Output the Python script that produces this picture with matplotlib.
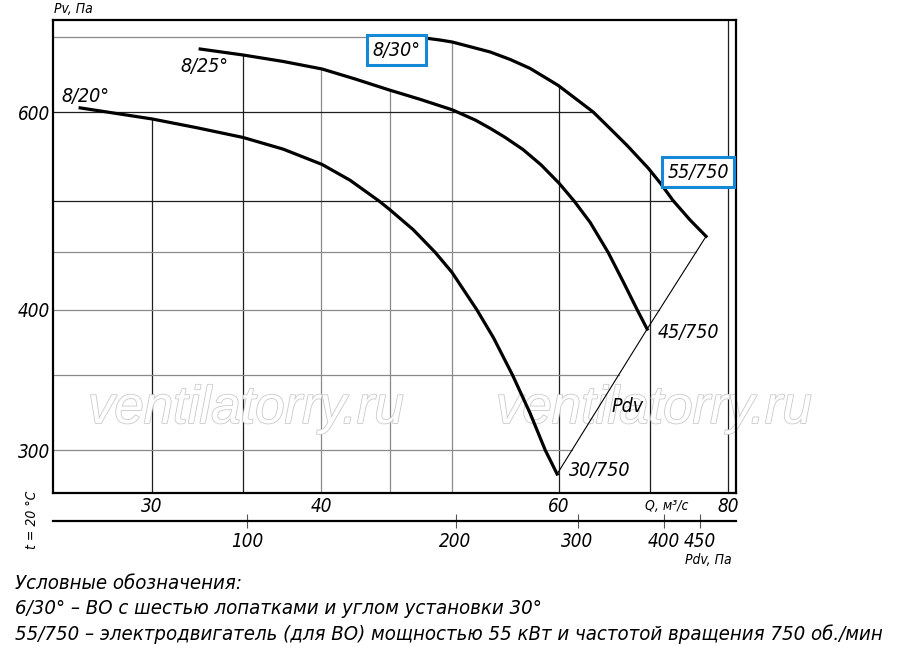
import os
import matplotlib
matplotlib.use("Agg")
import matplotlib.pyplot as plt
import matplotlib.patheffects as pe
from matplotlib import font_manager
from matplotlib.font_manager import FontProperties
from matplotlib.ticker import NullLocator, FixedLocator
import numpy as np

# ---- values ----
Q_20 = [26.54, 28.21, 30.0, 32.39, 35.02, 37.50, 40.07, 42.03, 44.16, 44.95, 46.80, 48.59,
        50.0, 52.16, 53.66, 55.42, 57.12, 58.60, 59.80]
P_20 = [605.3, 598.5, 591.7, 581.1, 569.7, 556.2, 539.0, 521.8, 500.0, 491.5, 471.5, 450.0,
        431.9, 400.0, 377.7, 350.0, 323.4, 300.0, 285.6]
Q_25 = [32.56, 35.02, 37.50, 40.07, 42.39, 44.92, 47.36, 50.02, 52.02, 53.35, 54.74, 56.44,
        58.20, 60.01, 61.56, 63.26, 65.23, 66.92, 68.54, 69.71]
P_25 = [683.0, 674.7, 665.8, 655.6, 642.3, 628.0, 616.0, 602.9, 590.4, 580.5, 569.7, 555.6,
        538.4, 518.5, 500.0, 478.6, 450.0, 423.8, 400.0, 384.5]
Q_30 = [47.36, 49.00, 50.02, 53.35, 55.21, 57.12, 59.91, 63.59, 65.46, 67.38, 69.83, 71.27,
        72.86, 75.00, 77.07]
P_30 = [699.5, 695.7, 692.9, 678.9, 668.5, 656.3, 633.9, 600.2, 580.0, 560.3, 535.0, 519.0,
        500.5, 480.9, 465.1]

BLADES = ["8/20°", "8/25°", "8/30°"]
MOTORS = ["30/750", "45/750", "55/750"]

Q_TICKS = [30, 40, 60, 80]
Q_GRID = [30, 35, 40, 45, 50, 60, 70, 80]
P_TICKS = [300, 400, 600]
P_GRID = [300, 350, 400, 450, 500, 600, 700]
PDV_TICKS = [100, 200, 300, 400, 450]

LEGEND = ["Условные обозначения:",
          "6/30° – ВО с шестью лопатками и углом установки 30°",
          "55/750 – электродвигатель (для ВО) мощностью 55 кВт и частотой вращения 750 об./мин"]

# ---- fonts: a condensed italic if one is installed ----
def pick_font(patterns):
    files = [f.fname for f in font_manager.fontManager.ttflist]
    for pat in patterns:
        for fn in files:
            if os.path.basename(fn).lower().startswith(pat.lower()):
                return fn
    return None

NARROW_FILE = pick_font(["LiberationSansNarrow-Italic", "NotoSans-CondensedItalic",
                         "DejaVuSansCondensed-Oblique"])
WMARK_FILE = pick_font(["LiberationSans-Italic", "DejaVuSans-Oblique"])


def fp(size, fname=NARROW_FILE):
    if fname:
        return FontProperties(fname=fname, size=size)
    return FontProperties(family="DejaVu Sans", style="italic", stretch="condensed", size=size)


BLUE = "#1589d6"
DARK, GRAY = "#1e1e1e", "#8a8a8a"
QGRID_COL = [DARK, DARK, GRAY, GRAY, GRAY, DARK, DARK, DARK]
PGRID_COL = [GRAY, GRAY, GRAY, GRAY, DARK, DARK, GRAY]

W, H = 900, 658
fx = lambda px: px / W
fy = lambda py: 1 - py / H

fig = plt.figure(figsize=(W / 100, H / 100), dpi=100)
ax = fig.add_axes([fx(53), fy(493), fx(736) - fx(53), fy(20) - fy(493)])
ax.set_xscale("log"); ax.set_yscale("log")
ax.set_xlim(25.34, 81.1); ax.set_ylim(274.7, 724.9)

curves = [(Q_20, P_20), (Q_25, P_25), (Q_30, P_30)]

# clipped grid: vertical lines stop under the top curve, horizontal ones at the outer border
for q, c in zip(Q_GRID, QGRID_COL):
    tops = [10 ** np.interp(np.log10(q), np.log10(cq), np.log10(cp))
            for cq, cp in curves if cq[0] <= q <= cq[-1]]
    top = max(tops) if tops else ax.get_ylim()[1]
    ax.plot([q, q], [ax.get_ylim()[0], top], color=c, lw=0.9, zorder=1)

pdv_q = [Q_30[-1], Q_25[-1], Q_20[-1]]
pdv_p = [P_30[-1], P_25[-1], P_20[-1]]
bq = np.array(Q_30 + pdv_q[1:])[::-1]
bp = np.array(P_30 + pdv_p[1:])[::-1]
for p, c in zip(P_GRID, PGRID_COL):
    right = 10 ** np.interp(np.log10(p), np.log10(bp), np.log10(bq))
    ax.plot([ax.get_xlim()[0], right], [p, p], color=c, lw=0.9, zorder=1)

# watermark (under the curves)
for xc in (246, 654):
    ax.text(fx(xc), fy(423), "ventilatorry.ru", fontproperties=fp(38, WMARK_FILE),
            color="white", ha="center", va="baseline", zorder=2, transform=fig.transFigure,
            path_effects=[pe.Stroke(linewidth=1.2, foreground="#cacaca"), pe.Normal()])

# dynamic pressure line through the curve ends
ax.plot(pdv_q, pdv_p, color="black", lw=0.8, zorder=3)

for cq, cp in curves:
    ax.plot(cq, cp, color="black", lw=2.3, zorder=4, solid_joinstyle="round")

# curve labels
box = dict(boxstyle="square,pad=0.28", fc="white", ec=BLUE, lw=2.2)
lab_kw = dict(textcoords="offset pixels", ha="center", va="center", zorder=6)
ax.annotate(BLADES[0], (Q_20[0], P_20[0]), xytext=(5, 11), fontproperties=fp(14), **lab_kw)
ax.annotate(BLADES[1], (Q_25[0], P_25[0]), xytext=(4, -17), fontproperties=fp(14), **lab_kw)
ax.annotate(BLADES[2], (Q_30[0], P_30[0]), xytext=(-24, -13), fontproperties=fp(14), bbox=box, **lab_kw)
ax.annotate(MOTORS[0], (Q_20[-1], P_20[-1]), xytext=(43, 4), fontproperties=fp(14), **lab_kw)
ax.annotate(MOTORS[1], (Q_25[-1], P_25[-1]), xytext=(41, -3), fontproperties=fp(14), **lab_kw)
ax.annotate(MOTORS[2], (Q_30[-1], P_30[-1]), xytext=(-8, 64), fontproperties=fp(14), bbox=box, **lab_kw)
ax.annotate("Pdv", (Q_20[-1], P_20[-1]), xytext=(70, 68), fontproperties=fp(14), **lab_kw)

# axes cosmetics
for s in ax.spines.values():
    s.set_linewidth(1.6)
ax.xaxis.set_major_locator(FixedLocator(Q_TICKS))
ax.xaxis.set_minor_locator(NullLocator())
ax.set_xticklabels([str(v) for v in Q_TICKS])
ax.yaxis.set_major_locator(FixedLocator(P_TICKS))
ax.yaxis.set_minor_locator(NullLocator())
ax.set_yticklabels([str(v) for v in P_TICKS])
ax.tick_params(length=0)
ax.tick_params(axis="x", pad=3)
ax.tick_params(axis="y", pad=2)
for lab in ax.get_xticklabels() + ax.get_yticklabels():
    lab.set_fontproperties(fp(13.5))

# Pdv scale below
ax2 = fig.add_axes([fx(53), fy(520.7), fx(736) - fx(53), 0.0005])
ax2.set_xscale("log"); ax2.set_xlim(52.5, 507.9)
for k in ("left", "right", "top"):
    ax2.spines[k].set_visible(False)
ax2.spines["bottom"].set_linewidth(1.6)
ax2.set_yticks([])
ax2.xaxis.set_major_locator(FixedLocator(PDV_TICKS))
ax2.xaxis.set_minor_locator(NullLocator())
ax2.set_xticklabels([str(v) for v in PDV_TICKS])
ax2.tick_params(axis="x", direction="inout", length=10, width=0.8, color="#555555", pad=3)
for lab in ax2.get_xticklabels():
    lab.set_fontproperties(fp(13.5))

# axis captions
fig.text(fx(73), fy(9), "Pv, Па", fontproperties=fp(10), ha="center", va="center")
fig.text(fx(667), fy(506), "Q, м³/с", fontproperties=fp(10), ha="center", va="center")
fig.text(fx(708), fy(560), "Pdv, Па", fontproperties=fp(10), ha="center", va="center")
fig.text(fx(32), fy(520), "t = 20 °C", fontproperties=fp(10), rotation=90, ha="center", va="center")

# legend, sized so that the long line spans the same width as in the reference
leg = [fig.text(fx(15), fy(589 + 25.5 * i), line, fontproperties=fp(15), ha="left", va="baseline")
       for i, line in enumerate(LEGEND)]
fig.canvas.draw()
wpx = leg[2].get_window_extent().width
size = min(17.0, 15 * 870 / wpx)
for t in leg:
    t.set_fontproperties(fp(size))

fig.savefig("out.png", dpi=100)
